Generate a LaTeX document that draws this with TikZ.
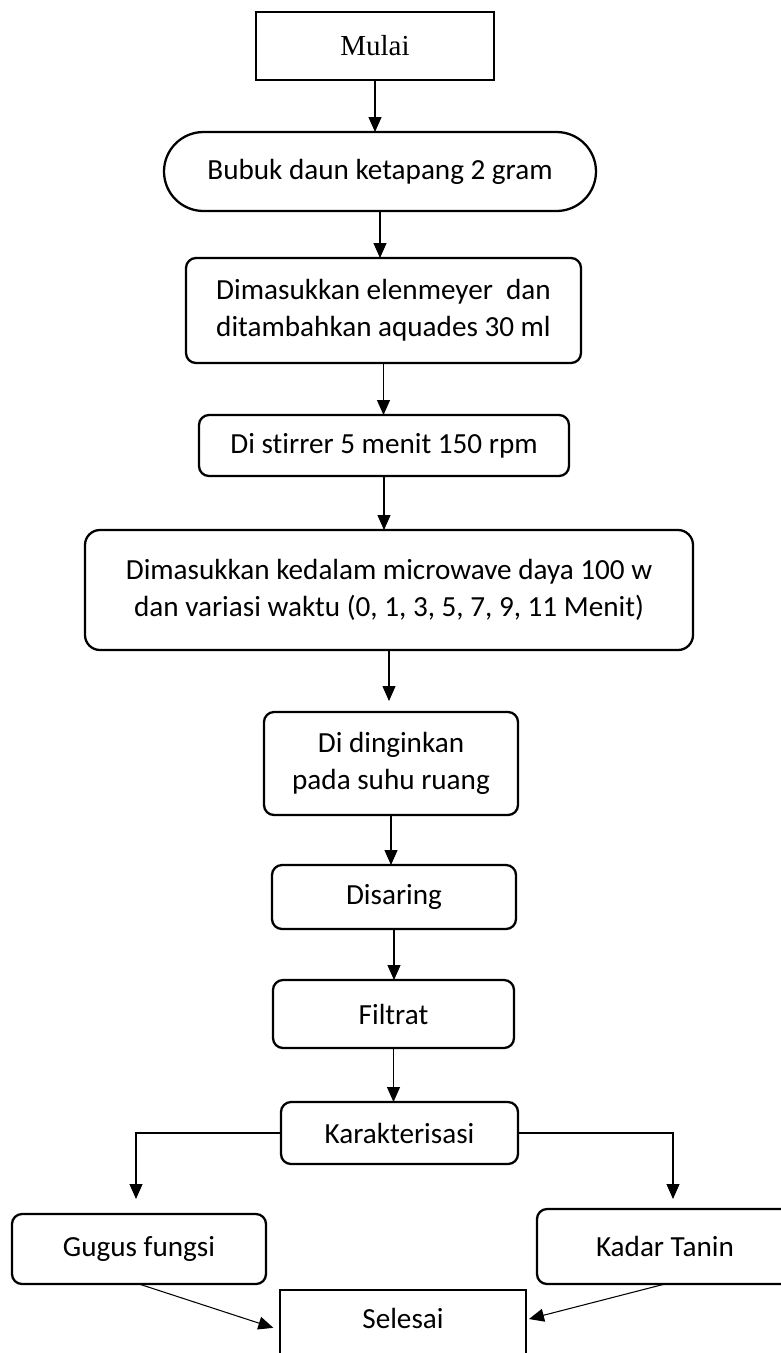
\documentclass[tikz,border=0pt]{standalone}
\usepackage{fontspec}
\setmainfont[Ligatures=NoCommon]{Carlito}
\newfontfamily\serifface{Liberation Serif}
\usetikzlibrary{arrows.meta,shapes.misc}

\begin{document}
\begin{tikzpicture}[x=0.02cm, y=-0.02cm,
  >={Triangle[length=0.3cm, width=0.26cm]},
  line/.style={draw, line width=0.6pt},
  plainbox/.style={draw, line width=1.3pt, inner sep=0pt, outer sep=0pt, align=center,
    font=\fontsize{16.6}{21}\selectfont},
  stepbox/.style={plainbox, rounded corners=0.2cm},
  pillbox/.style={plainbox, rounded rectangle}]

  \def\px{0.02cm} % one pixel of the page

  % page frame
  \useasboundingbox (0,0) rectangle (781,1353);

  % Start and material
  \node[plainbox, minimum width=238*\px, minimum height=68*\px,
    font=\serifface\fontsize{16.5}{20}\selectfont] (mulai) at (375,46) {Mulai};
  \node[pillbox, minimum width=432*\px, minimum height=79*\px] (bubuk) at (380,171.5) {Bubuk daun ketapang 2 gram};

  % Extraction steps
  \node[stepbox, minimum width=395*\px, minimum height=105*\px] (masuk) at (383.5,310.5)
    {Dimasukkan elenmeyer\ \ dan\\ditambahkan aquades 30 ml};
  \node[stepbox, minimum width=370*\px, minimum height=61*\px] (stirrer) at (384,445.5) {Di stirrer 5 menit 150 rpm};
  \node[stepbox, minimum width=608*\px, minimum height=120*\px, rounded corners=0.3cm] (microwave) at (389,590)
    {Dimasukkan kedalam microwave daya 100 w\\dan variasi waktu (0, 1, 3, 5, 7, 9, 11 Menit)};
  \node[stepbox, minimum width=254*\px, minimum height=103*\px] (dingin) at (391,763.5) {Di dinginkan\\pada suhu ruang};
  \node[stepbox, minimum width=244*\px, minimum height=64*\px] (saring) at (394,897) {Disaring};
  \node[stepbox, minimum width=241*\px, minimum height=68*\px] (filtrat) at (393.5,1014) {Filtrat};

  % Characterisation
  \node[stepbox, minimum width=237*\px, minimum height=62*\px] (karak) at (399.5,1133) {Karakterisasi};
  \node[stepbox, minimum width=254*\px, minimum height=70*\px] (gugus) at (139,1249) {Gugus fungsi};
  \node[stepbox, minimum width=256*\px, minimum height=75*\px] (kadar) at (665,1246.5) {Kadar Tanin};

  % End (runs past the bottom of the page)
  \node[plainbox, anchor=north, minimum width=246*\px, text height=0.76cm, text depth=0.84cm] (selesai) at (403,1290) {Selesai};

  % Arrows down the chain
  \draw[line, ->] (mulai.south) -- (mulai.south |- bubuk.north);
  \draw[line, ->] (bubuk.south) -- (bubuk.south |- masuk.north);
  \draw[line, ->] (masuk.south) -- (masuk.south |- stirrer.north);
  \draw[line, ->] (stirrer.south) -- (stirrer.south |- microwave.north);
  \draw[line, ->, shorten >=0.22cm] (microwave.south) -- (microwave.south |- dingin.north);
  \draw[line, ->] (dingin.south) -- (dingin.south |- saring.north);
  \draw[line, ->] (saring.south) -- (saring.south |- filtrat.north);
  \draw[line, ->] (filtrat.south) -- (filtrat.south |- karak.north);

  % Branches
  \draw[line, ->, shorten >=0.3cm] (karak.west) -| ([xshift=-0.06cm]gugus.north);
  \draw[line, ->, shorten >=0.2cm] (karak.east) -| ([xshift=0.16cm]kadar.north);
  \draw[line, ->, shorten >=0.14cm] (gugus.south) -- (selesai.west);
  \draw[line, ->] (kadar.south) -- ([xshift=0.06cm, yshift=0.22cm]selesai.east);

\end{tikzpicture}
\end{document}
